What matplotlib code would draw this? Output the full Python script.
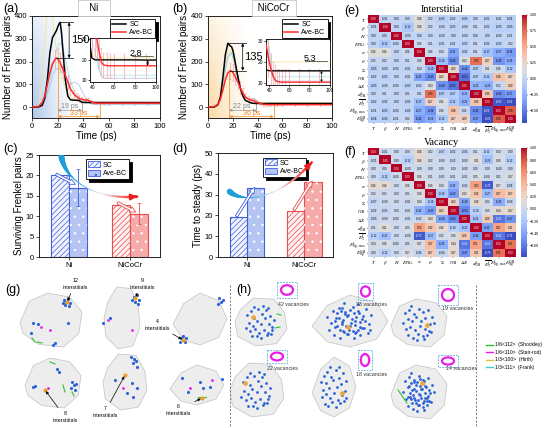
import numpy as np
import matplotlib.pyplot as plt
from matplotlib.patches import Polygon, Ellipse, Rectangle, Patch
from matplotlib.lines import Line2D
from matplotlib.collections import LineCollection
from matplotlib.colors import LinearSegmentedColormap, to_rgb

plt.rcParams['font.family'] = ['Liberation Sans', 'DejaVu Sans']
plt.rcParams['mathtext.fontset'] = 'stix'
plt.rcParams['axes.linewidth'] = 0.6
plt.rcParams['xtick.major.width'] = 0.5
plt.rcParams['ytick.major.width'] = 0.5
plt.rcParams['xtick.major.size'] = 2
plt.rcParams['ytick.major.size'] = 2
plt.rcParams['hatch.linewidth'] = 0.5

# ---------------------------------------------------------------- data
T_GRID = [0, 5, 8, 10, 12, 14, 16, 18, 19, 20, 21, 22, 23, 24, 26, 28, 30, 33, 35,
          37, 39, 42, 44, 46, 48, 50, 53, 56, 60, 70, 80, 90, 100]

NI_SC = [0, 0, 8, 40, 120, 240, 305, 325, 335, 350, 365, 372, 330, 260, 120, 48, 32,
         30, 30, 29, 21, 20, 20, 20, 20, 20, 20, 20, 20, 20, 20, 19.9, 19.9]
NI_BC = [0, 2, 20, 50, 100, 150, 190, 210, 215, 213, 205, 195, 182, 168, 140, 110, 80,
         55, 45, 38, 34, 31, 30, 24, 19, 17.6, 17.2, 17.1, 17.1, 17.1, 17.1, 17.1, 17.1]
NI_ERR = [0, 0, 0, 0, 0, 0, 0, 40, 0, 45, 0, 42, 0, 40, 38, 32, 28, 22, 18, 15, 12,
          10, 9, 8, 7, 6, 6, 6, 6, 6, 6, 6, 0]
NI_RUN_Y = [0, 0, 120, 300, 430, 460, 400, 300, 255, 210, 180, 160, 140, 120, 85, 60,
            45, 33, 29, 26, 24, 22, 21, 21, 21, 21, 21, 21, 21, 21, 21, 21, 21]
NI_RUN_C = [0, 0, 10, 30, 70, 120, 170, 220, 245, 265, 278, 280, 275, 262, 215, 160,
            115, 70, 50, 38, 30, 24, 19, 15, 13, 12.5, 12.5, 12.5, 12.5, 12.5, 12.5,
            12.5, 12.5]
NI_RUN_B = [0, 0, 8, 25, 55, 95, 135, 160, 168, 170, 168, 162, 155, 148, 130, 112, 100,
            110, 104, 95, 70, 40, 25, 15, 12, 11, 11, 11, 11, 11, 11, 11, 11]

NC_SC = [0, 0, 10, 45, 130, 230, 280, 268, 265, 250, 225, 195, 165, 135, 85, 50, 30,
         22, 18, 16.3, 15.9, 15.8, 15.8, 15.8, 15.8, 15.8, 15.8, 15.8, 15.8, 15.8, 15.8,
         15.8, 15.8]
NC_BC = [0, 2, 12, 35, 75, 120, 150, 160, 158, 152, 143, 133, 122, 110, 85, 63, 45, 33,
         30, 28, 22, 16, 13, 11.5, 10.8, 10.6, 10.5, 10.5, 10.5, 10.5, 10.5, 10.5, 10.5]
NC_ERR = [0, 0, 0, 0, 0, 0, 0, 35, 0, 38, 0, 35, 0, 32, 28, 22, 18, 14, 12, 10, 9, 8,
          7, 7, 6, 6, 6, 6, 6, 6, 6, 6, 0]
NC_RUN_Y = [0, 0, 12, 45, 115, 195, 245, 250, 242, 228, 208, 185, 160, 135, 92, 62, 42,
            32, 28, 25, 22, 20, 20, 20, 20, 20, 20, 20, 20, 20, 20, 20, 20]
NC_RUN_C = [0, 0, 10, 35, 90, 160, 210, 232, 228, 218, 198, 172, 148, 122, 82, 56, 40,
            35, 38, 40, 30, 18, 14, 13, 13, 13, 13, 13, 13, 13, 13, 13, 13]
NC_RUN_B = [0, 0, 12, 40, 100, 170, 222, 240, 236, 222, 202, 178, 152, 126, 86, 60, 45,
            38, 35, 35, 28, 16, 12, 11, 11, 11, 11, 11, 11, 11, 11, 11, 11]

MATERIALS = ['Ni', 'NiCoCr']
SURV_SC = [20.0, 12.8]
SURV_BC = [17.0, 10.6]
SURV_ERR = [4.5, 2.6]
STEADY_SC = [19, 22]
STEADY_BC = [33, 36]

HEAT_LABELS = [r'$T$', r'$\beta$', r'$H$', r'$E_{\rm PKA}$', r'$\alpha$', r'$\theta$',
               r'$\Sigma$', r'$\gamma_{\rm GB}$', r'$\Delta X$', r'$d^{\rm f}_{\rm GB}$',
               r'$\overline{E^{\rm f}_{\rm T}}$', r'$E^{\rm f}_{\rm Sig,max}$',
               r'$E^{\rm GB}_{\rm Sig}$']

# upper triangles, row i starts at the diagonal
INTER_UPPER = [
    [1.00, -0.01, 0.00, 0.00, 0.16, 0.02, -0.05, -0.02, -0.05, 0.00, -0.02, -0.01, -0.06],
    [1.00, 0.00, -0.12, 0.16, 0.02, -0.00, -0.03, -0.00, 0.01, -0.02, -0.05, -0.05],
    [1.00, -0.00, 0.00, 0.00, -0.00, 0.00, -0.00, 0.00, 0.00, -0.00, -0.01],
    [1.00, 0.06, 0.01, -0.01, -0.01, -0.03, 0.01, -0.02, -0.02, 0.02],
    [1.00, 0.06, 0.04, -0.32, -0.02, 0.01, -0.17, -0.27, -0.36],
    [1.00, -0.19, -0.43, 0.13, 0.73, 0.27, -0.39, -0.29],
    [1.00, 0.23, -0.40, -0.07, 0.11, 0.06, -0.12],
    [1.00, -0.53, -0.07, -0.11, 0.38, 0.27],
    [1.00, -0.23, -0.26, 0.02, 0.29],
    [1.00, 0.35, -0.43, -0.37],
    [1.00, -0.65, -0.69],
    [1.00, 0.79],
    [1.00],
]
VAC_UPPER = [
    [1.00, -0.01, 0.00, 0.00, 0.16, 0.02, -0.07, -0.02, -0.05, 0.01, -0.12, 0.04, 0.00],
    [1.00, 0.00, -0.12, 0.16, 0.02, -0.00, -0.03, -0.00, 0.11, -0.23, 0.06, -0.12],
    [1.00, -0.00, 0.00, 0.00, 0.00, 0.00, -0.00, 0.00, 0.00, -0.00, 0.00],
    [1.00, 0.06, 0.01, -0.01, -0.01, -0.01, 0.05, -0.00, 0.01, 0.07],
    [1.00, 0.06, 0.04, -0.32, -0.02, 0.52, -0.73, 0.07, -0.06],
    [1.00, -0.19, -0.43, 0.13, 0.32, -0.27, 0.37, 0.27],
    [1.00, 0.23, -0.40, 0.16, 0.02, -0.35, -0.04],
    [1.00, -0.53, -0.10, 0.05, 0.14, 0.17],
    [1.00, -0.22, 0.29, -0.62, -0.47],
    [1.00, -0.42, 0.51, 0.31],
    [1.00, -0.62, -0.79],
    [1.00, 0.71],
    [1.00],
]

# (g) interstitial clusters
G_CENTERS = [(51, 40), (122, 38), (200, 39), (53, 103), (125, 102), (197, 105)]
G_RADII = [(31, 27), (18, 31), (27, 26), (28, 25), (22, 28), (27, 20)]
G_COUNTS = [12, 9, 4, 8, 7, 6]
G_LABEL_XY = [(75, 4), (142, 4), (157, 45), (65, 137), (105, 132), (178, 130)]
G_TARGET_XY = [(67, 22), (135, 18), (183, 60), (45, 110), (125, 95), (202, 118)]
G_BLUE_X = [64, 66, 68, 70, 65, 69, 63, 33, 38, 68, 53, 55, 31, 134, 137, 139, 135, 138,
            132, 103, 110, 219, 221, 223, 218, 181, 185, 183, 186, 180, 57, 59, 72, 74,
            71, 76, 75, 35, 33, 131, 134, 136, 133, 137, 115, 132, 137, 127, 133, 182,
            203, 210, 200, 222, 188]
G_BLUE_Y = [20, 22, 19, 23, 25, 26, 23, 43, 44, 43, 65, 63, 53, 17, 15, 20, 22, 24, 20,
            43, 38, 18, 22, 20, 24, 58, 62, 56, 58, 62, 89, 92, 102, 105, 108, 104, 110,
            106, 107, 77, 79, 81, 83, 87, 100, 103, 108, 113, 117, 98, 108, 107, 102, 99,
            112]
G_MAG_X = [50, 41, 132, 108, 48, 123, 190, 212]
G_MAG_Y = [50, 47, 50, 40, 108, 108, 108, 100]

# (h) vacancy clusters
H_CENTERS = [(36, 42), (125, 41), (194, 43), (32, 110), (109, 107), (194, 112)]
H_RADII = [(26, 24), (38, 26), (28, 24), (27, 27), (22, 30), (28, 27)]
H_COUNTS = [42, 23, 19, 22, 18, 14]
H_LABEL_XY = [(68, 24), (147, 25), (233, 29), (57, 88), (147, 94), (237, 89)]
H_BOX_XY = [(52, 2, 72, 18), (133, 3, 148, 20), (213, 5, 233, 25), (42, 70, 62, 83),
            (133, 70, 147, 90), (213, 75, 233, 87)]
H_CORE_XY = [(28, 37), (123, 47), (202, 45), (20, 103), (117, 113), (197, 103)]
H_PTS_X1 = [-0.62, -0.45, -0.30, -0.12, 0.05, 0.22, 0.40, 0.58, -0.55, -0.38, -0.20,
            0.00, 0.18, 0.35, 0.52, -0.68, -0.48, -0.28, -0.08, 0.12, 0.30, 0.50, -0.40,
            -0.18, 0.02, 0.25, 0.45, -0.30, 0.08, 0.32]
H_PTS_Y1 = [-0.35, -0.55, -0.20, -0.62, -0.40, -0.58, -0.30, -0.10, 0.05, 0.18, -0.05,
            0.10, -0.18, 0.08, 0.25, 0.30, 0.45, 0.35, 0.52, 0.38, 0.55, 0.40, 0.70, 0.68,
            0.78, 0.66, 0.58, -0.75, -0.78, -0.70]
H_PTS_X2 = [-0.70, -0.52, -0.35, -0.15, 0.10, 0.28, 0.48, 0.65, -0.60, -0.42, -0.25,
            -0.05, 0.15, 0.38, 0.60, -0.65, -0.45, -0.22, 0.00, 0.20, 0.42, 0.62, -0.50,
            -0.30, -0.10, 0.12, 0.32, 0.55, -0.20, 0.25]
H_PTS_Y2 = [-0.20, -0.45, -0.60, -0.40, -0.65, -0.35, -0.55, -0.25, 0.10, -0.15, 0.05,
            -0.28, 0.00, -0.10, 0.15, 0.40, 0.28, 0.45, 0.22, 0.50, 0.30, 0.42, 0.65, 0.75,
            0.60, 0.78, 0.62, 0.55, -0.80, -0.78]
H_PTS_X3 = [-0.58, -0.40, -0.22, -0.02, 0.18, 0.36, 0.55, -0.66, -0.48, -0.30, -0.12,
            0.08, 0.26, 0.46, 0.64, -0.56, -0.36, -0.16, 0.04, 0.24, 0.44, -0.45, -0.25,
            -0.05, 0.15, 0.35, 0.52, -0.10, 0.20, -0.35]
H_PTS_Y3 = [-0.50, -0.66, -0.45, -0.70, -0.52, -0.62, -0.30, 0.00, -0.20, -0.08, -0.30,
            -0.12, -0.25, 0.05, 0.02, 0.30, 0.22, 0.35, 0.15, 0.28, 0.40, 0.60, 0.72, 0.55,
            0.66, 0.58, 0.45, 0.82, 0.80, -0.82]
DISLOC_LABELS = ['1/6<112>  (Shockley)', '1/6<110>  (Stair-rod)', '1/3<100>  (Hirth)',
                 '1/3<111>  (Frank)']
DISLOC_COLORS = ['#2fc22f', '#e81ee8', '#e3c14b', '#35d0d0']

# ---------------------------------------------------------------- layout helpers
FW, FH = 550, 428


def box(x0, y0, x1, y1):
    return [x0 / FW, 1 - y1 / FH, (x1 - x0) / FW, (y1 - y0) / FH]


def fig_text(x, y, s, **kw):
    fig.text(x / FW, 1 - y / FH, s, **kw)


fig = plt.figure(figsize=(FW / 100, FH / 100), dpi=100)

BLUE, RED = '#3f5ee0', '#ea4b4b'


def cascade(ax, sc, bc, err, runs, bg, peak_lbl, peak_x, t0, t_sc, t_bc, dt_lbls,
            inset_pos, diff_lbl, diff_xy):
    t = np.array(T_GRID)
    sc, bc, err = np.array(sc), np.array(bc), np.array(err)
    grad = np.zeros((60, 80, 4))
    grad[..., :3] = to_rgb(bg)
    u = np.linspace(0, 1, 80)[None, :]
    v = np.linspace(0, 1, 60)[:, None]
    grad[..., 3] = 0.65 * (1 - u) ** 1.2 * (0.3 + 0.7 * v)
    ax.imshow(grad, extent=[0, 34, -48, 400], aspect='auto', origin='upper', zorder=0,
              interpolation='bilinear')

    def lines(a, lw):
        for y, c in runs:
            a.plot(t, y, color=c, lw=0.6 * lw, alpha=0.85, zorder=1)
        m = err > 0
        a.errorbar(t[m], bc[m], yerr=err[m], fmt='none', ecolor='#f5a5a5',
                   elinewidth=0.5, capsize=1, capthick=0.4, zorder=2)
        a.plot(t, sc, color='k', lw=1.1 * lw, label='SC', zorder=4)
        a.plot(t, bc, color='#ff2a2a', lw=1.1 * lw, label='Ave-BC', zorder=4)

    lines(ax, 1.0)
    ax.set_xlim(0, 100)
    ax.set_ylim(-48, 400)
    ax.set_xticks(range(0, 101, 20))
    ax.set_yticks(range(0, 401, 100))
    ax.tick_params(labelsize=5.5, pad=1.5)
    ax.set_xlabel('Time (ps)', fontsize=7, labelpad=1)
    ax.set_ylabel('Number of Frenkel pairs', fontsize=7, labelpad=1)

    top, bot = sc.max(), bc.max()
    ax.plot([t[sc.argmax()], peak_x + 3], [top, top], color='k', lw=0.5, zorder=5)
    ax.plot([t[bc.argmax()], peak_x + 3], [bot, bot], color='k', lw=0.5, zorder=5)
    ax.annotate('', xy=(peak_x, top), xytext=(peak_x, bot), zorder=5,
                arrowprops=dict(arrowstyle='<|-|>', color='k', lw=0.5, mutation_scale=4,
                                shrinkA=0, shrinkB=0))
    ax.text(peak_x + 1.5, (top + bot) / 2, peak_lbl, fontsize=8, va='center', zorder=5)

    orange, grey = '#f39a3b', '#9a9a9a'
    ax.plot([t0, t0], [-48, bot], color=orange, lw=0.6, zorder=3)
    ax.plot([t_bc, t_bc], [-48, 22], color=orange, lw=0.6, zorder=3)
    ax.plot([t_sc, t_sc], [-20, 22], color=grey, lw=0.6, zorder=3)
    ax.annotate('', xy=(t_sc, -14), xytext=(t0, -14),
                arrowprops=dict(arrowstyle='<|-|>', color=grey, lw=0.5, mutation_scale=4,
                                shrinkA=0, shrinkB=0))
    ax.annotate('', xy=(t_bc, -42), xytext=(t0, -42),
                arrowprops=dict(arrowstyle='<|-|>', color=orange, lw=0.6, mutation_scale=4,
                                shrinkA=0, shrinkB=0))
    ax.text(t0 + 3, 2, dt_lbls[0], fontsize=5, color='#808080', va='center')
    ax.text((t0 + t_bc) / 2, -28, dt_lbls[1], fontsize=5, color='#f07d18',
            va='center', ha='center')

    ax.legend(loc='upper right', bbox_to_anchor=(0.975, 0.985), fontsize=5, frameon=True,
              fancybox=False, edgecolor='k', shadow={'color': 'k', 'alpha': 1},
              handlelength=2.0, borderpad=0.3, labelspacing=0.15, handletextpad=0.5,
              borderaxespad=0.2).get_frame().set_linewidth(0.6)

    ins = ax.inset_axes(inset_pos)
    ins.set_zorder(6)
    lines(ins, 0.9)
    ins.set_xlim(37, 100)
    ins.set_ylim(9, 30.5)
    ins.set_xticks([40, 60, 80, 100])
    ins.set_yticks([10, 20, 30])
    ins.tick_params(labelsize=3.5, length=1.2, pad=0.8)
    ins.text(diff_xy[0], diff_xy[1], diff_lbl, fontsize=6.5, ha='center', va='center')
    ins.plot([diff_xy[0] - 4, 97], [diff_xy[1] - 1.6, diff_xy[1] - 1.6], color='k', lw=0.4)
    ins.annotate('', xy=(92, bc[-1]), xytext=(92, sc[-1]),
                 arrowprops=dict(arrowstyle='<|-|>', color='k', lw=0.4, mutation_scale=3,
                                 shrinkA=0, shrinkB=0))


def swoosh(ax, ctrl, c0, c1, widths):
    s = np.linspace(0, 1, 90)
    p = [np.array(q) for q in ctrl]
    pts = (((1 - s) ** 3)[:, None] * p[0] + (3 * (1 - s) ** 2 * s)[:, None] * p[1]
           + (3 * (1 - s) * s ** 2)[:, None] * p[2] + (s ** 3)[:, None] * p[3])
    segs = np.stack([pts[:-1], pts[1:]], axis=1)
    cmap = LinearSegmentedColormap.from_list('sw', [c0, c0, '#f2eef4', c1])
    lws = np.interp(s[:-1], [0, 0.15, 0.3, 0.6, 1], widths)
    ax.add_collection(LineCollection(segs, colors=cmap(s[:-1]), linewidths=lws,
                                     capstyle='round', zorder=6))
    ax.annotate('', xy=pts[-1], xytext=pts[-6], zorder=7,
                arrowprops=dict(arrowstyle='-|>', color=c1, lw=1.4, mutation_scale=9,
                                shrinkA=0, shrinkB=0))


def hollow_arrow(ax, xy0, xy1, col):
    ax.annotate('', xy=xy1, xytext=xy0, zorder=7,
                arrowprops=dict(arrowstyle='simple,head_width=0.7,head_length=0.7,tail_width=0.3',
                                fc='white', ec=col, lw=0.6, mutation_scale=6,
                                shrinkA=0, shrinkB=0))


def bars(ax, sc, bc, err, ylabel, ymax, ystep):
    w = 0.3
    cols = [(BLUE, '#f1f4fe', '#b5c5f3'), (RED, '#fdf0f0', '#f6abab')]
    for i, (c, light, fill) in enumerate(cols):
        ax.bar(i - w / 2, sc[i], w, fc=light, ec=c, hatch='//////', lw=0.8, zorder=2)
        ax.bar(i + w / 2, bc[i], w, fc=fill, ec=c, lw=0.8, zorder=2)
        ax.bar(i + w / 2, bc[i], w, fill=False, ec='white', hatch='..', lw=0, zorder=3)
        if err is not None:
            ax.errorbar(i + w / 2, bc[i], yerr=err[i], color=c, lw=0.6, capsize=1.5,
                        capthick=0.5, zorder=4)
    ax.set_xlim(-0.5, 1.5)
    ax.set_ylim(0, ymax)
    ax.set_xticks([0, 1])
    ax.set_xticklabels(MATERIALS)
    ax.set_yticks(np.arange(0, ymax + 0.1, ystep))
    ax.tick_params(labelsize=5.5, pad=1.5)
    ax.set_ylabel(ylabel, fontsize=7, labelpad=1)
    handles = [Patch(fc='#f1f4fe', ec=BLUE, hatch='//////', lw=0.6),
               Patch(fc='#b5c5f3', ec=BLUE, hatch='..', lw=0.6)]
    ax.legend(handles, ['SC', 'Ave-BC'], loc='upper left', bbox_to_anchor=(0.36, 0.99),
              fontsize=5, fancybox=False, edgecolor='k', shadow={'color': 'k', 'alpha': 1},
              handlelength=1.8, handleheight=1.0, borderpad=0.25, labelspacing=0.15,
              handletextpad=0.4).get_frame().set_linewidth(0.6)


def corr(upper):
    n = len(upper)
    m = np.zeros((n, n))
    for i, row in enumerate(upper):
        m[i, i:] = row
        m[i:, i] = row
    return m


def heat(hbox, cbox, upper, title, ticks):
    m = corr(upper)
    n = len(m)
    ax = fig.add_axes(box(*hbox))
    im = ax.imshow(m, cmap='coolwarm', vmin=m.min(), vmax=1, aspect='auto')
    for i in range(n):
        for j in range(n):
            v = m[i, j]
            ax.text(j, i, f'{v:.2f}', ha='center', va='center', fontsize=2.0,
                    color='white' if (v > 0.85 or v < -0.6) else 'k')
    ax.set_xticks(range(n))
    ax.set_xticklabels(HEAT_LABELS, fontsize=3.6)
    ax.set_yticks(range(n))
    ax.set_yticklabels(HEAT_LABELS, fontsize=3.6)
    ax.tick_params(length=1, width=0.3, pad=0.6)
    for s in ax.spines.values():
        s.set_visible(False)
    ax.set_title(title, fontsize=7.5, family='Liberation Serif', pad=2.5)
    cax = fig.add_axes(box(*cbox))
    cb = fig.colorbar(im, cax=cax, ticks=ticks)
    cb.ax.tick_params(labelsize=2.6, length=1, width=0.3, pad=0.8)
    cb.outline.set_visible(False)
    cb.ax.yaxis.set_major_formatter('{x:.2f}')


SHAPES = [
    [(-1.0, 0.1), (-0.7, -0.7), (-0.1, -1.0), (0.6, -0.85), (1.0, -0.3), (0.9, 0.5),
     (0.4, 1.0), (-0.4, 0.9), (-0.9, 0.5)],
    [(-0.8, -0.5), (-0.3, -1.0), (0.5, -0.95), (0.9, -0.4), (1.0, 0.3), (0.6, 0.9),
     (-0.2, 1.0), (-0.9, 0.6), (-1.0, 0.0)],
    [(-1.0, 0.2), (-0.6, -0.6), (0.0, -1.0), (0.7, -0.7), (1.0, 0.0), (0.7, 0.7),
     (0.0, 1.0), (-0.6, 0.8)],
]


def blob(ax, c, r, k):
    pts = [(c[0] + r[0] * u, c[1] + r[1] * v) for u, v in SHAPES[k % 3]]
    ax.add_patch(Polygon(pts, closed=True, fc='#ececec', ec='#bcbcbc', lw=0.5,
                         alpha=0.9, zorder=1))


# ---------------------------------------------------------------- (a) (b)
ax_a = fig.add_axes(box(32, 16, 160, 118))
cascade(ax_a, NI_SC, NI_BC, NI_ERR,
        [(NI_RUN_Y, '#f3e47c'), (NI_RUN_C, '#93dbe9'), (NI_RUN_B, '#a4bfe4')],
        '#7fa6dc', '150', 29, 20, 39, 53, ['19 ps', '33 ps'],
        [0.45, 0.35, 0.52, 0.43], '2.8', (81, 23.3))
ax_b = fig.add_axes(box(208, 16, 332, 118))
cascade(ax_b, NC_SC, NC_BC, NC_ERR,
        [(NC_RUN_Y, '#f3df8a'), (NC_RUN_C, '#93dbe9'), (NC_RUN_B, '#a4bfe4')],
        '#f7c16a', '135', 28, 17, 39, 53, ['22 ps', '36 ps'],
        [0.47, 0.32, 0.51, 0.45], '5.3', (80, 21.8))
fig_text(94, 8, '   Ni   ', fontsize=7, ha='center', va='center',
         bbox=dict(boxstyle='square,pad=0.35', fc='white', ec='#c8c8c8', lw=0.6))
fig_text(274, 8, ' NiCoCr ', fontsize=7, ha='center', va='center',
         bbox=dict(boxstyle='square,pad=0.35', fc='white', ec='#c8c8c8', lw=0.6))

# ---------------------------------------------------------------- (c) (d)
ax_c = fig.add_axes(box(39, 155, 160, 257))
bars(ax_c, SURV_SC, SURV_BC, SURV_ERR, 'Surviving Frenkel pairs', 25, 5)
swoosh(ax_c, [(-0.13, 24.6), (-0.05, 18.0), (0.5, 14.0), (1.12, 14.8)],
       '#1f9fd6', '#f01d1d', [4.2, 2.5, 0.7, 0.6, 2.0])
hollow_arrow(ax_c, (-0.22, 20.3), (0.1, 17.8), BLUE)
hollow_arrow(ax_c, (0.8, 13.3), (1.1, 11.0), RED)

ax_d = fig.add_axes(box(218, 153, 333, 257))
bars(ax_d, STEADY_SC, STEADY_BC, None, 'Time to steady (ps)', 50, 10)
swoosh(ax_d, [(-0.3, 31.5), (-0.1, 26.5), (0.5, 26.0), (1.13, 45.5)],
       '#1f9fd6', '#f01d1d', [4.0, 2.5, 0.7, 0.6, 1.8])
hollow_arrow(ax_d, (-0.18, 19.5), (0.14, 33.5), BLUE)
hollow_arrow(ax_d, (0.82, 22.5), (1.14, 36.5), RED)

# ---------------------------------------------------------------- (e) (f)
heat((368, 15, 516, 123), (522, 15, 527, 123), INTER_UPPER, 'Interstitial',
     [-0.75, -0.5, -0.25, 0, 0.25, 0.5, 0.75, 1.0])
heat((368, 148, 516, 257), (521, 148, 527, 257), VAC_UPPER, 'Vacancy',
     [-0.6, -0.4, -0.2, 0, 0.2, 0.4, 0.6, 0.8, 1.0])

# ---------------------------------------------------------------- (g)
ax_g = fig.add_axes(box(0, 280, 228, 428))
ax_g.set_xlim(0, 228)
ax_g.set_ylim(148, 0)
ax_g.axis('off')
for k, (c, r) in enumerate(zip(G_CENTERS, G_RADII)):
    blob(ax_g, c, r, k)
ax_g.scatter(G_BLUE_X, G_BLUE_Y, s=5, color='#2a62d8', zorder=3, linewidths=0)
ax_g.scatter(G_MAG_X, G_MAG_Y, s=4, color='#e81ee8', zorder=3, linewidths=0)
for (tx, ty), (lx, ly), n in zip(G_TARGET_XY, G_LABEL_XY, G_COUNTS):
    ax_g.scatter([tx], [ty], s=9, color='#f0a028', zorder=4, linewidths=0)
    ax_g.annotate(f'{n}\ninterstitials', xy=(tx, ty), xytext=(lx, ly), fontsize=3.8,
                  ha='center', va='center', zorder=5, linespacing=1.3,
                  arrowprops=dict(arrowstyle='-|>', color='k', lw=0.5, mutation_scale=4,
                                  shrinkA=1, shrinkB=1))
for x0, y0, x1, y1 in [(32, 58, 35, 62), (37, 62, 42, 63), (50, 82, 55, 84),
                       (63, 105, 65, 112), (72, 112, 74, 116), (198, 117, 206, 117)]:
    ax_g.plot([x0, x1], [y0, y1], color='#2fc22f', lw=0.8, zorder=3)

# ---------------------------------------------------------------- (h)
ax_h = fig.add_axes(box(225, 280, 477, 428))
ax_h.set_xlim(0, 252)
ax_h.set_ylim(148, 0)
ax_h.axis('off')
pt_sets = [(H_PTS_X1, H_PTS_Y1), (H_PTS_X2, H_PTS_Y2), (H_PTS_X3, H_PTS_Y3)]
for k, (c, r) in enumerate(zip(H_CENTERS, H_RADII)):
    blob(ax_h, c, r, k + 1)
    px, py = pt_sets[k % 3]
    ax_h.scatter(c[0] + 0.85 * r[0] * np.array(px), c[1] + 0.85 * r[1] * np.array(py),
                 s=4, color='#2a62d8', zorder=3, linewidths=0)
    if k in (1, 5):
        px, py = pt_sets[(k + 1) % 3]
        ax_h.scatter(c[0] + 0.6 * r[0] * np.array(px), c[1] + 0.6 * r[1] * np.array(py),
                     s=4, color='#2a62d8', zorder=3, linewidths=0)
for (cx, cy), (lx, ly), n, (bx0, by0, bx1, by1) in zip(H_CORE_XY, H_LABEL_XY, H_COUNTS,
                                                      H_BOX_XY):
    ax_h.scatter([cx], [cy], s=14, marker='h', color='#eda83a', zorder=4, linewidths=0)
    ax_h.text(lx, ly, f'{n} vacancies', fontsize=3.8, ha='center', va='center',
              color='#333333', zorder=5)
    ax_h.add_patch(Rectangle((bx0, by0), bx1 - bx0, by1 - by0, fill=False, ec='#4fa3e0',
                             lw=0.6, ls=(0, (2, 1.5)), zorder=4))
    mx, my = (bx0 + bx1) / 2, (by0 + by1) / 2
    ax_h.add_patch(Ellipse((mx, my), (bx1 - bx0) * 0.6, (by1 - by0) * 0.6, fill=False,
                           ec='#e81ee8', lw=1.6, zorder=5))
ax_h.plot([52, 56], [34, 35], color='#2fc22f', lw=0.8, zorder=3)
ax_h.plot([50, 55], [48, 47], color='#2fc22f', lw=0.8, zorder=3)
ax_h.plot([173, 182], [110, 123], color='#2fc22f', lw=0.8, zorder=3)
ax_h.plot([5, 5], [5, 148], color='#666666', lw=0.6, ls=(0, (2.5, 2)))
ax_h.plot([251, 251], [5, 148], color='#666666', lw=0.6, ls=(0, (2.5, 2)))

handles = [Line2D([], [], color=c, lw=1.0) for c in DISLOC_COLORS]
fig.legend(handles, DISLOC_LABELS, loc='center left', bbox_to_anchor=(481 / FW, 1 - 356 / FH),
           fontsize=3.6, frameon=False, handlelength=1.4, labelspacing=0.5,
           handletextpad=0.5)

# ---------------------------------------------------------------- panel labels
for lbl, x, y in [('(a)', 3, 9), ('(b)', 172, 9), ('(e)', 344, 11), ('(c)', 3, 149),
                  ('(d)', 172, 149), ('(f)', 344, 152), ('(g)', 5, 290), ('(h)', 236, 290)]:
    fig_text(x, y, lbl, fontsize=9, va='center', ha='left')

fig.savefig('out.png', dpi=100)
